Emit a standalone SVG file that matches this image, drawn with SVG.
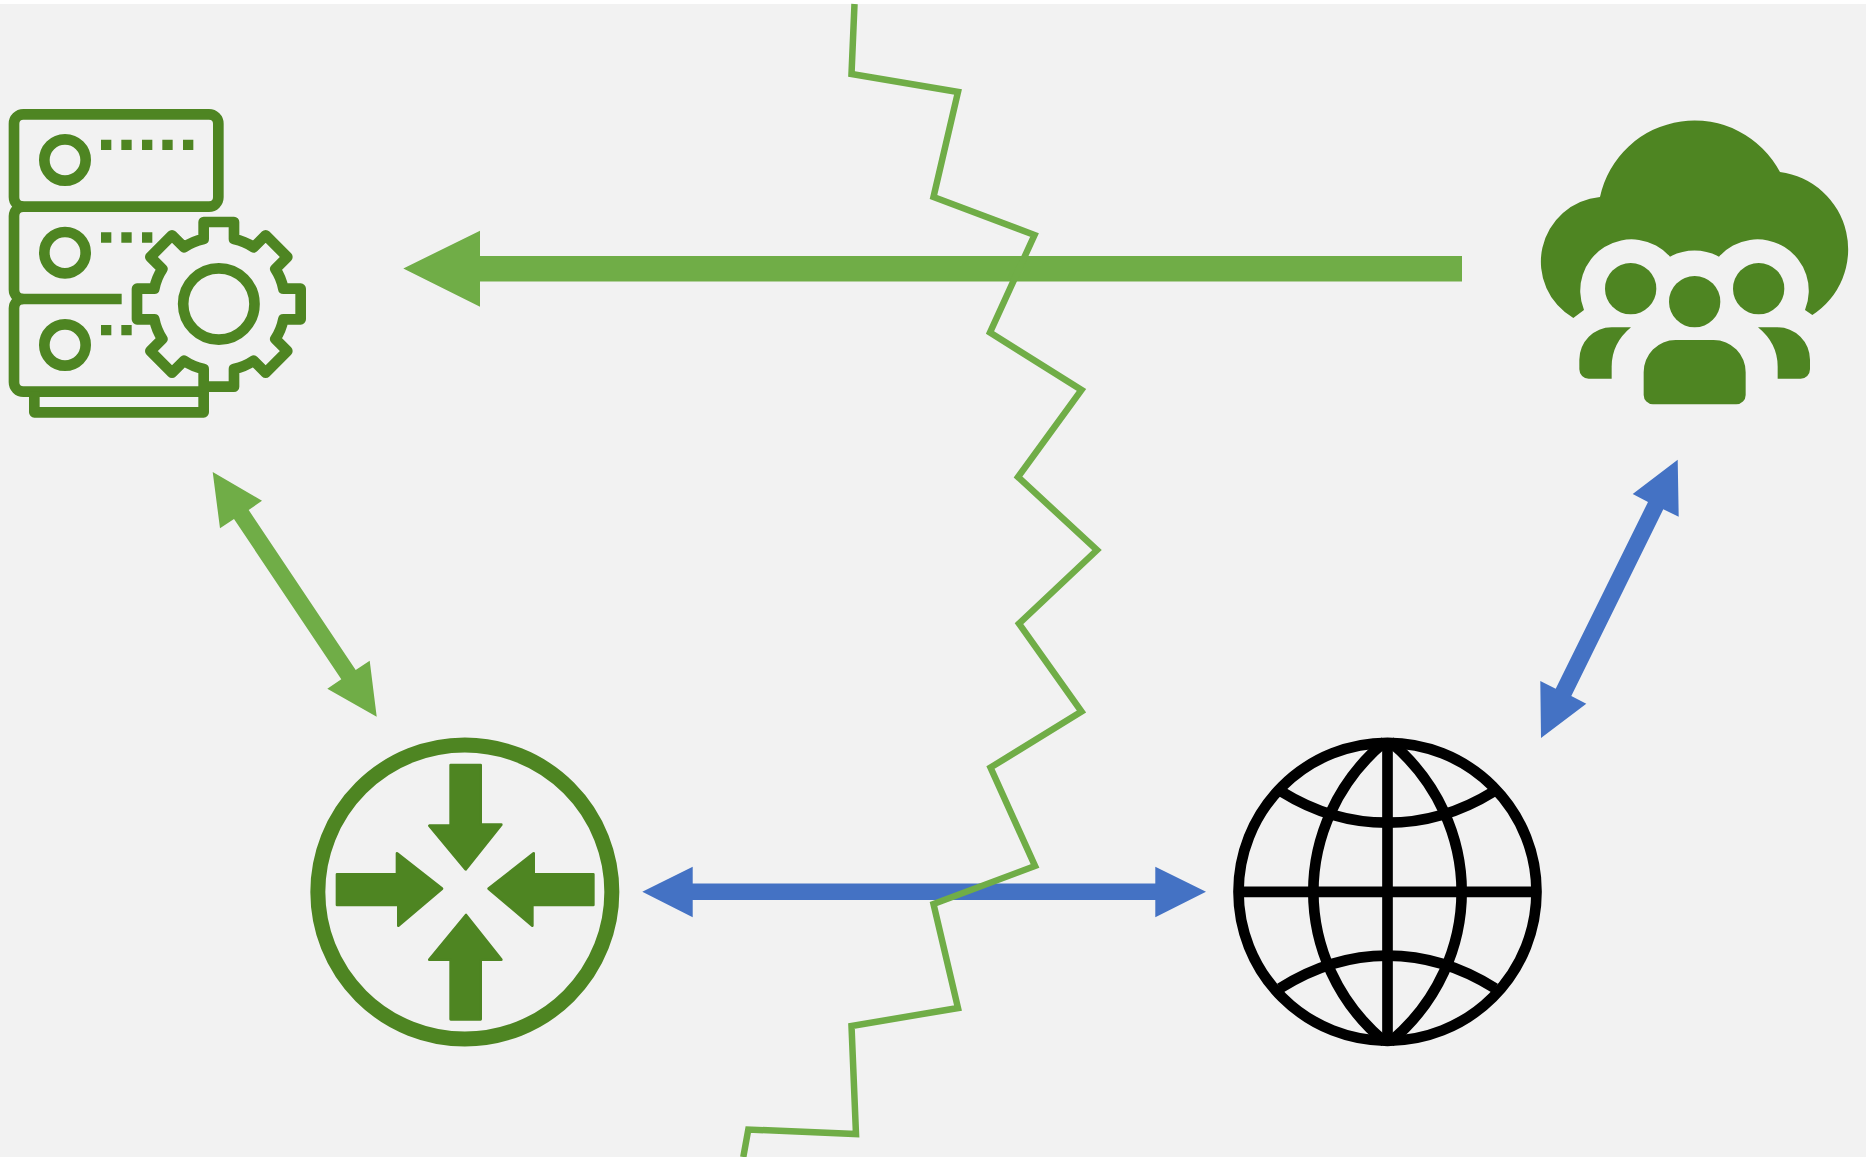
<svg xmlns="http://www.w3.org/2000/svg" width="1866" height="1157" viewBox="0 0 1866 1157">
<style>
.g{fill:#4E8522}
.gs{fill:none;stroke:#4E8522;stroke-width:32;stroke-linejoin:round}
.ga{fill:#4E8522;stroke:#4E8522;stroke-width:8;stroke-linejoin:round}
.k{fill:none;stroke:#000;stroke-width:32}
.lg{fill:#70AD47}
.lb{fill:#4472C4}
</style>
<rect width="1866" height="1157" fill="#fff"/>
<rect y="4" width="1866" height="1153" fill="#F2F2F2"/>
<g id="connectors">
<polygon class="lb" points="642.3,891.7 692.7,866.7 692.7,883.4 1155.3,883.4 1155.3,866.7 1206,891.7 1155.3,917.3 1155.3,900 692.7,900 692.7,917.3"/>
<polygon class="lg" points="403.3,268.5 480,230.7 480,256 1462,256 1462,281.5 480,281.5 480,306.7"/>
<polygon class="lg" points="212.7,472 262,500.7 248.7,510 355.7,670 369.7,660.7 376.7,716.7 327.3,688.7 341.3,679.3 234,519 220,528.3"/>
<polygon class="lb" points="1677.7,459.7 1678.7,516.7 1663.3,509.3 1571.3,696 1586.3,703.7 1541,738 1540.3,681 1555.7,688.7 1648,502 1632.7,494"/>
<polyline fill="none" stroke="#70AD47" stroke-width="6.5" stroke-miterlimit="10" points="854.5,4 851.5,74 958,92 933.5,197 1034.5,235 990,332.5 1081.5,390 1018,477 1097,550 1019,623.6 1081.5,711.6 990.5,767.6 1035,866 933.5,904 958,1008 851.5,1026 856,1134 748.3,1129.5 743.3,1157"/>
</g>
<g id="server" transform="translate(0,90) scale(.33333)">
<rect class="gs" x="42" y="73" width="613" height="277" rx="28"/>
<path class="gs" d="M70 350A28 28 0 0 0 42 378V599A28 28 0 0 0 70 627H365"/>
<path class="gs" d="M70 627A28 28 0 0 0 42 655V877A28 28 0 0 0 70 905H626"/>
<path class="gs" d="M103 905V967H611V905"/>
<circle class="gs" cx="195" cy="210" r="62"/>
<circle class="gs" cx="195" cy="488" r="62"/>
<circle class="gs" cx="195" cy="765" r="62"/>
<path class="g" d="M303 149h31v31h-31zM364 149h31v31h-31zM426 149h31v31h-31zM487 149h31v31h-31zM549 149h31v31h-31zM303 427h31v31h-31zM364 427h31v31h-31zM426 427h31v31h-31zM303 705h31v31h-31zM364 705h31v31h-31z"/>
<path class="gs" d="M611 905V837Q578 830 552 812L516 848L451 783L487 747Q469 720 463 688H411V596H463Q469 564 487 537L451 501L516 436L552 472Q578 454 611 447V396H702V447Q735 454 761 472L797 436L862 501L826 537Q844 564 850 596H902V688H850Q844 720 826 747L862 783L797 848L761 812Q735 830 702 837V890H611"/>
<circle class="gs" cx="656.5" cy="642" r="107"/>
</g>
<g id="cloud-users" transform="translate(1520,100) scale(.33333)">
<path class="g" d="M160 654A195 195 0 0 1 240 291A290 290 0 0 1 780 216A234 234 0 0 1 877 645L855 630A154 154 0 0 0 597 470A155 155 0 0 0 450 470A154 154 0 0 0 192 630Z"/>
<circle class="g" cx="332" cy="566" r="77"/>
<circle class="g" cx="524" cy="605" r="77"/>
<circle class="g" cx="716" cy="566" r="77"/>
<path class="g" d="M371 817A96 96 0 0 1 467 720H581A96 96 0 0 1 677 817V885A28 28 0 0 1 649 913H399A28 28 0 0 1 371 885Z"/>
<path class="g" d="M333 682H275A97 97 0 0 0 178 779V808A28 28 0 0 0 206 836H275V800Q275 730 333 682Z"/>
<path class="g" d="M714 682H772A97 97 0 0 1 870 779V808A28 28 0 0 1 842 836H773V800Q773 730 714 682Z"/>
</g>
<g id="router" transform="translate(300,725) scale(.33333)">
<circle cx="494.5" cy="501" r="441" fill="none" stroke="#4E8522" stroke-width="45"/>
<polygon class="ga" points="452,120 542,120 542,299 604,299 497,433 388,302 452,302"/>
<polygon class="ga" points="452,883 542,883 542,704 604,704 498,570 388,704 452,704"/>
<polygon class="ga" points="111,448 291,448 291,385 426,491 295,602 295,540 111,540"/>
<polygon class="ga" points="880,448 701,448 701,385 566,491 697,602 697,540 880,540"/>
</g>
<g id="globe" transform="translate(1220,725) scale(.33333)">
<circle class="k" cx="502.5" cy="500.5" r="447"/>
<path class="k" d="M502.5 50V950M55 500.5H950"/>
<path class="k" d="M495 50C350 170 280 340 280 500C280 661 350 831 495 951"/>
<path class="k" d="M510 50C655 170 725 340 725 500C725 661 655 831 510 951"/>
<path class="k" d="M185 200Q335 293 502 293Q670 293 820 200"/>
<path class="k" d="M180 790Q335 692 502 692Q670 692 825 790"/>
</g>
</svg>
